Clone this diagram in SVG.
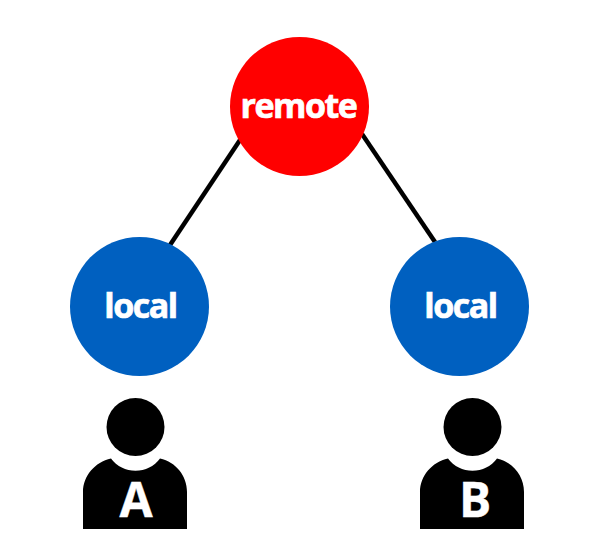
<svg xmlns="http://www.w3.org/2000/svg" width="609" height="554" viewBox="0 0 609 554">
<style>
.lbl{font-family:"Open Sans","Noto Sans",sans-serif;font-weight:700;fill:#fff;stroke:#fff;text-anchor:middle}
.n{font-size:34px;letter-spacing:-1.5px;stroke-width:.7px}
.p{font-size:48px;stroke-width:.4px}
.c{stroke:#000;stroke-width:4.5;fill:none}
</style>
<defs>
<g id="person">
<circle cx="135.5" cy="427" r="29"/>
<path d="M111 458.500A30.500 30.500 0 0 0 160 458.500C176 462 187 476 187 492V529H83V492C83 476 95 462 111 458.500Z"/>
</g>
</defs>
<rect width="609" height="554" fill="#fff"/>
<g id="connectors">
<line class="c" x1="240" y1="140" x2="170" y2="245"/>
<line class="c" x1="362" y1="134" x2="435" y2="242"/>
</g>
<g id="remote"><circle cx="299.500" cy="106.500" r="69.500" fill="#f00"/><text class="lbl n" x="298.500" y="118">remote</text></g>
<g id="local-a"><circle cx="139.500" cy="306.500" r="69.500" fill="#0060c0"/><text class="lbl n" x="140.500" y="318">local</text></g>
<g id="local-b"><circle cx="459.500" cy="306.500" r="69.500" fill="#0060c0"/><text class="lbl n" x="460.500" y="318">local</text></g>
<g id="user-a"><use href="#person"/><text class="lbl p" x="136" y="517">A</text></g>
<g id="user-b"><use href="#person" x="337"/><text class="lbl p" x="475" y="517">B</text></g>
</svg>
